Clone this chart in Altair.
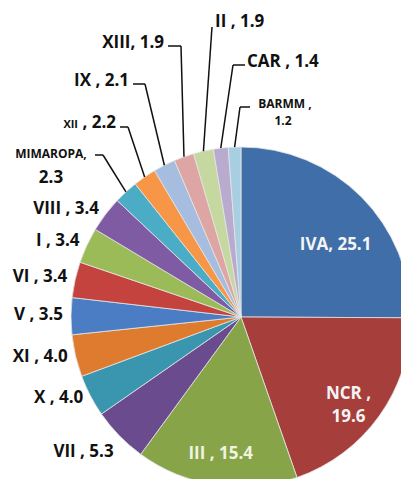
import altair as alt
import pandas as pd
import numpy as np

# ---- data ----
regions = ["IVA", "NCR", "III", "VII", "X", "XI", "V", "VI", "I", "VIII",
           "MIMAROPA", "XII", "IX", "XIII", "II", "CAR", "BARMM"]
shares = [25.1, 19.6, 15.4, 5.3, 4.0, 4.0, 3.5, 3.4, 3.4, 3.4,
          2.3, 2.2, 2.1, 1.9, 1.9, 1.4, 1.2]
colors = ["#3F6EA8", "#A63F3C", "#87A548", "#6A4B8E", "#3A96AF", "#DE7B2E",
          "#4A7DC4", "#C4433F", "#9BBB59", "#7E5BA2", "#4BACC6", "#F79646",
          "#A6BDDF", "#DDA5A4", "#C5D89F", "#B9ABCE", "#A8CFE1"]

inside = ["NCR", "III"]
outside_left = ["X", "XI", "V", "VI", "I", "VIII"]
callouts = ["MIMAROPA", "XII", "IX", "XIII", "II", "CAR", "BARMM"]

# ---- layout ----
W, H = 393, 471
CX, CY = 233, 309
R = 170
FONT = "Open Sans"

total = sum(shares)
df = pd.DataFrame({"region": regions, "share": shares})
df["end"] = df["share"].cumsum()
df["start"] = df["end"] - df["share"]
df["mid"] = (df["start"] + df["end"]) / 2
df["label"] = df["region"] + " , " + df["share"].map("{:.1f}".format)
df.loc[df.region.isin(["IVA", "XIII"]), "label"] = df["region"] + ", " + df["share"].map("{:.1f}".format)
df.loc[df.region == "NCR", "label"] = "NCR ,\n19.6"

theta_scale = alt.Scale(domain=[0, total], range=[0, 2 * np.pi])

pie = alt.Chart(df).mark_arc(outerRadius=R, stroke="#e4e4e4", strokeWidth=0.8).encode(
    theta=alt.Theta("start:Q", scale=theta_scale, stack=None),
    theta2="end:Q",
    color=alt.Color("region:N", scale=alt.Scale(domain=regions, range=colors), legend=None),
    x=alt.value(CX), y=alt.value(CY),
)

def polar_text(sel, radius, color, align="center", dx=0, dy=0):
    return alt.Chart(df).transform_filter(
        alt.FieldOneOfPredicate(field="region", oneOf=sel)
    ).mark_text(radius=radius, font=FONT, fontWeight="bold", fontSize=17, color=color,
                align=align, baseline="middle", lineBreak="\n", lineHeight=23, dx=dx, dy=dy).encode(
        theta=alt.Theta("mid:Q", scale=theta_scale, stack=None),
        text="label:N",
        x=alt.value(CX), y=alt.value(CY),
    )

iva_lbl = polar_text(["IVA"], 125, "#F4F4F4", dx=6, dy=16)
ncr_lbl = polar_text(["NCR"], 132, "#F4F4F4")
iii_lbl = polar_text(["III"], 138, "#EEF3E2")
left_lbl = polar_text(outside_left, R + 8, "#111111", align="right", dy=-1)
vii_lbl = polar_text(["VII"], R + 8, "#111111", align="right", dy=11)

# callout leader lines: start on the slice edge, elbow, tail near the label
elbow = {"XIII": (173, 38, 160), "IX": (137, 76, 125), "XII": (120, 119, 112),
         "MIMAROPA": (95, 147, 87), "II": (204, 19, 204), "CAR": (225, 57, 237),
         "BARMM": (232, 99, 242)}
lead = df[df.region.isin(callouts)].copy()
ang = 2 * np.pi * lead["mid"] / total
lead["x1"] = CX + R * np.sin(ang)
lead["y1"] = CY - R * np.cos(ang)
lead["ex"] = lead.region.map(lambda r: elbow[r][0])
lead["ey"] = lead.region.map(lambda r: elbow[r][1])
lead["tx"] = lead.region.map(lambda r: elbow[r][2])

px = lambda f: alt.X(f, scale=None, axis=None)
py = lambda f: alt.Y(f, scale=None, axis=None)

lead1 = alt.Chart(lead).mark_rule(color="#111111", strokeWidth=1.5).encode(
    x=px("x1:Q"), y=py("y1:Q"), x2="ex:Q", y2="ey:Q")
lead2 = alt.Chart(lead).mark_rule(color="#111111", strokeWidth=1.5).encode(
    x=px("ex:Q"), y=py("ey:Q"), x2="tx:Q", y2="ey:Q")

# callout label pieces (text, x, baseline y, align, size)
pieces = pd.DataFrame([
    ("XIII, 1.9", 156, 40, "right", 17),
    ("IX , 2.1", 121, 78, "right", 17),
    ("XII", 70, 120, "right", 11),
    (", 2.2", 108, 120, "right", 17),
    ("MIMAROPA,", 43, 150, "center", 12),
    ("2.3", 43, 175, "center", 17),
    ("II , 1.9", 207, 19, "left", 17),
    ("CAR , 1.4", 239, 59, "left", 17),
    ("BARMM ,", 277, 100, "center", 12),
    ("1.2", 275, 117, "center", 12),
], columns=["t", "px", "py", "align", "size"])

def piece_layer(al):
    return alt.Chart(pieces).transform_filter(alt.datum.align == al).mark_text(
        font=FONT, fontWeight="bold", color="#111111", align=al, baseline="alphabetic").encode(
        x=px("px:Q"), y=py("py:Q"), text="t:N",
        size=alt.Size("size:Q", scale=None, legend=None))

chart = alt.layer(
    pie, lead1, lead2, iva_lbl, ncr_lbl, iii_lbl, left_lbl, vii_lbl,
    piece_layer("left"), piece_layer("right"), piece_layer("center"),
).properties(
    width=W, height=H, padding=0, autosize=alt.AutoSizeParams(type="none"),
    background="white",
).configure_view(stroke=None)

chart.save("out.html", embed_options={"renderer": "svg", "actions": False})
